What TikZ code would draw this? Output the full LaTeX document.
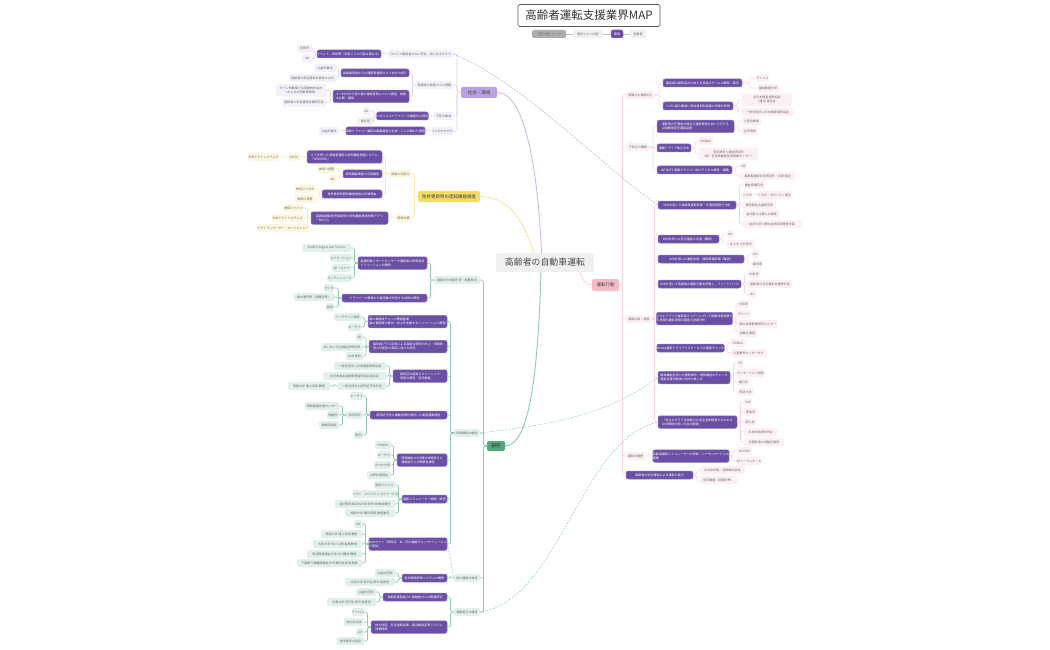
\documentclass[tikz,border=0pt]{standalone}
\usepackage{fontspec}
\setmainfont{Noto Sans CJK JP}
\definecolor{purp}{HTML}{6B4FA5}
\definecolor{purpedge}{HTML}{8E78C2}
\definecolor{purpmid}{HTML}{B7A2DE}
\definecolor{purpleaf}{HTML}{F3F0F9}
\definecolor{purpline}{HTML}{DCD2F0}
\definecolor{yelmid}{HTML}{F2DC63}
\definecolor{yelleaf}{HTML}{FDF7E0}
\definecolor{yelline}{HTML}{FBEBAE}
\definecolor{grnmid}{HTML}{55A57F}
\definecolor{grnleaf}{HTML}{E1F0E9}
\definecolor{grnline}{HTML}{8FC9AE}
\definecolor{pnkmid}{HTML}{F5BCC8}
\definecolor{pnkleaf}{HTML}{FDF0F3}
\definecolor{pnkline}{HTML}{FBD3DE}
\definecolor{txtgray}{HTML}{6A6A6A}
\tikzset{
  base/.style={inner sep=0pt,outer sep=0pt,rounded corners=1.5pt,text=txtgray,font=\fontsize{3.05}{4}\selectfont,align=center},
  pnode/.style={base,fill=purp,draw=purpedge,line width=0.5pt,text=white,align=left,rounded corners=2pt},
  pleaf/.style={base,fill=purpleaf},
  yleaf/.style={base,fill=yelleaf},
  gleaf/.style={base,fill=grnleaf},
  rleaf/.style={base,fill=pnkleaf},
  gyleaf/.style={base,fill=black!6},
  plink/.style={draw=purpline,line width=0.6pt,rounded corners=1.5pt},
  ylink/.style={draw=yelline,line width=0.6pt,rounded corners=1.5pt},
  glink/.style={draw=grnline,line width=0.7pt,rounded corners=1.5pt},
  rlink/.style={draw=pnkline,line width=0.6pt,rounded corners=1.5pt},
  branch/.style={base,rounded corners=2pt,text=black!75,font=\fontsize{4.5}{5.5}\selectfont},
  rel/.style={line width=0.45pt,dash pattern=on 2pt off 1.2pt},
}
\newcommand{\NN}[6]{\node[#2,minimum width={(#4-#3)*1pt},minimum height=8pt] (#1) at ({(#3+#4)/2},#5) {#6};}
\newcommand{\ND}[6]{\node[#2,minimum width={(#4-#3)*1pt},minimum height=12.5pt] (#1) at ({(#3+#4)/2},#5) {#6};}
\newcommand{\LL}[4][3.5]{\draw[#2] (#3.west) -- ++(-#1,0) |- (#4.east);}
\newcommand{\RR}[4][3.5]{\draw[#2] (#3.east) -- ++(#1,0) |- (#4.west);}
\begin{document}
\begin{tikzpicture}[x=1pt,y=-1pt]
\useasboundingbox (0,0) rectangle (1050,650);
\fill[white] (0,0) rectangle (1050,650);
% title and legend
\node[base,draw=black!65,fill=white,line width=0.6pt,minimum width=142pt,minimum height=22pt,text=black!80,font=\fontsize{11.5}{13}\selectfont] (title) at (589,15.5) {高齢者運転支援業界MAP};
\NN{lg1}{base,fill=black!32}{532}{566}{34}{【記入例】テーマ}
\NN{lg2}{gyleaf}{573}{603}{34}{解決したい内容}
\NN{lg3}{pnode}{611}{623}{34}{事例}
\NN{lg4}{gyleaf}{630}{646}{34}{当事者}
\foreach \ia/\ib in {lg1/lg2,lg2/lg3,lg3/lg4} {\draw[black!25,line width=0.5pt] (\ia) -- (\ib);}
% centre and branches
\node[base,fill=black!6,minimum width=98pt,minimum height=19pt,text=black!70,font=\fontsize{8.9}{10}\selectfont] (ctr) at (545,262.5) {高齢者の自動車運転};
\node[branch,fill=purpmid,minimum width=36pt,minimum height=11pt] (soc) at (479,92.5) {社会・環境};
\node[branch,fill=yelmid,minimum width=62pt,minimum height=11pt] (yel) at (449,196.5) {免許更新時の認知機能検査};
\node[branch,fill=pnkmid,minimum width=27pt,minimum height=12pt] (act) at (605.5,285) {運転行動};
\node[branch,fill=grnmid,minimum width=18pt,minimum height=10pt,text=black!85] (res) at (496,446) {研究};
\coordinate (cp) at (541.5,253);
\coordinate (cy) at (534,253);
\coordinate (cg) at (541,272);
\coordinate (cr) at (580,272);
\draw[purpmid!80!white,line width=0.8pt] (cp) .. controls (538,170) and (525,92) .. (soc.east);
\draw[yelline!85!orange,line width=0.7pt] (cy) .. controls (522,215) and (505,196.5) .. (yel.east);
\draw[grnline,line width=0.9pt] (cg) .. controls (538,370) and (530,446) .. (res.east);
\draw[pnkline,line width=0.8pt] (cr) .. controls (583,282) and (587,285) .. (act.west);
% ---------- social
\NN{a1}{pleaf}{388}{453}{54}{ひとりで運転者のない安全、安心をきたろう}
\NN{a2}{pleaf}{416}{453}{85}{高齢者の家族からの理解}
\NN{a3}{pleaf}{434}{453}{116}{不安の解消}
\NN{a4}{pleaf}{432}{453}{131}{人とのかかわり}
\foreach \ic in {a1,a2,a3,a4} {\LL[4]{plink}{soc}{\ic}}
\NN{p1}{pnode}{317}{381}{54}{イベント、研修等（年度ごとの内容は異なる）}
\NN{p2}{pnode}{341}{409}{73}{高齢者家族からの運転準備度セルフ向けの紹介}
\ND{p3}{pnode}{333}{409}{96.5}{４～50代から見た親の運転実態について調査・結果\\の公開・解説}
\NN{p4}{pnode}{377}{428}{116}{ペダルミスドライバーの機能化の提示}
\NN{p5}{pnode}{346}{425}{131}{高齢ドライバー運転の数量調査と社会・人との関わり調査}
\LL{plink}{a1}{p1}
\LL{plink}{a2}{p2}
\LL{plink}{a2}{p3}
\LL{plink}{a3}{p4}
\LL{plink}{a4}{p5}
\NN{p1a}{pleaf}{297}{312}{48.7}{住田市}
\NN{p1b}{pleaf}{302}{312}{58.7}{AD}
\NN{p2a}{pleaf}{314}{336}{68}{公益市数法}
\NN{p2b}{pleaf}{289}{336}{78}{高齢者の安全運転を提供する方}
\ND{p3a}{pleaf}{276}{326}{90.5}{セゾン自動車火災保険株式会社\\（おとなの自動車保険）}
\NN{p3b}{pleaf}{282}{326}{102.7}{高齢者の安全運転支援研究会}
\NN{p4a}{pleaf}{363}{370}{111}{AD}
\NN{p4b}{pleaf}{357}{374}{121}{建交部}
\NN{p5a}{pleaf}{319}{339}{131}{公益市数法}
\foreach \ip/\ic in {p1/p1a,p1/p1b,p2/p2a,p2/p2b,p3/p3a,p3/p3b,p4/p4a,p4/p4b,p5/p5a} {\LL[2.5]{plink}{\ip}{\ic}}
% ---------- yellow
\NN{y1}{yleaf}{389}{412}{174}{検査の効率化}
\NN{y2}{yleaf}{396}{411}{218}{受検対策}
\LL[3.5]{ylink}{yel}{y1}
\LL[3.5]{ylink}{yel}{y2}
\ND{q1}{pnode}{307}{382}{157}{ＡＩを使った高齢者運転の認知機能検査システム\\「MEMORO」}
\NN{q2}{pnode}{343}{382}{174}{認知機能検査の合理運用}
\NN{q3}{pnode}{322}{382}{194}{免許更新時認知機能検査の反映理由}
\ND{q4}{pnode}{311}{388}{218}{高齢者運転免許更新時の認知機能検査体験アプリ\\「MOCO」}
\foreach \ic in {q1,q2,q3} {\LL{ylink}{y1}{\ic}}
\LL{ylink}{y2}{q4}
\NN{q1a}{yleaf}{288}{300}{157}{DELTA}
\NN{q1b}{yleaf}{248}{279}{157}{日本テクトシステムズ}
\NN{q2a}{yleaf}{317}{336}{169}{神奈川県警}
\NN{q2b}{yleaf}{329}{336}{179}{AD}
\NN{q3a}{yleaf}{295}{315}{189}{神奈川トヨタ}
\NN{q3b}{yleaf}{295}{315}{199}{神奈川県警}
\NN{q4a}{yleaf}{284}{303}{208}{損保ジャパン}
\NN{q4b}{yleaf}{272}{303}{218}{日本テクトシステムズ}
\NN{q4c}{yleaf}{263}{303}{228}{ドライブレコーダー・エージェンシー}
\LL{ylink}{q1}{q1a}
\LL{ylink}{q1a}{q1b}
\foreach \ip/\ic in {q2/q2a,q2/q2b,q3/q3a,q3/q3b,q4/q4a,q4/q4b,q4/q4c} {\LL{ylink}{\ip}{\ic}}
% ---------- green
\NN{g1}{gleaf}{434}{480}{280}{運転中の体調不良・興奮発見}
\NN{g2}{gleaf}{454}{480}{433}{認知機能の維持}
\NN{g3}{gleaf}{454}{480}{578}{目の健康の維持}
\NN{g4}{gleaf}{454}{480}{612}{運動能力の維持}
\foreach \ic in {g1,g2,g3,g4} {\LL{glink}{res}{\ic}}
\ND{r1}{pnode}{358}{427}{263}{直接制御リモートセンサーで運転者の表現発見\\ソリューションの開発}
\NN{r2}{pnode}{342}{427}{298}{ドライバーの環境から脳活動を判別する技術の開発}
\ND{r3}{pnode}{368}{447}{321.5}{脳の健康度チェック簡易基準\\脳の健康度の維持・向上を支援するソリューション開発}
\ND{r4}{pnode}{369}{447}{346.5}{脳年齢プラス活用による高齢な認知力向上・早期発\\見の可能性の実証に向けた研究}
\ND{r5}{pnode}{393}{447}{376}{認知症の超高スクリーニング\\発現の開発・活用推進}
\NN{r6}{pnode}{370}{447}{415}{認知症予防の運動習慣を検討した運転運動検査}
\ND{r7}{pnode}{397}{447}{460}{認知機能の5分間の体調変化と\\運転能力との関係性検証}
\NN{r8}{pnode}{402}{447}{499}{運転シミュレーター開発・販売}
\ND{r9}{pnode}{369}{447}{544}{Webサイト「認知症・お・同の機能チェック+トレーニン\\グ提供」}
\NN{r10}{pnode}{402}{447}{578}{有効価値評価システムの開発}
\NN{r11}{pnode}{383}{447}{597}{自動走運転能力と運動能力との関連研究}
\ND{r12}{pnode}{371}{447}{627}{体力測定、安全運転指導、脳活動測定等システム\\体験開発}
\foreach \ic in {r1,r2} {\LL{glink}{g1}{\ic}}
\foreach \ic in {r3,r4,r5,r6,r7,r8,r9} {\LL{glink}{g2}{\ic}}
\LL{glink}{g3}{r10}
\foreach \ic in {r11,r12} {\LL{glink}{g4}{\ic}}
% green leaves
\NN{l1}{gleaf}{302}{351}{248}{SOMPO Digital Lab Tel Aviv}
\NN{l2}{gleaf}{331}{351}{258}{エクサーション}
\NN{l3}{gleaf}{332}{351}{268}{4ビールドイ}
\NN{l4}{gleaf}{328}{351}{278}{コンティニューズ}
\foreach \ic in {l1,l2,l3,l4} {\LL{glink}{r1}{\ic}}
\NN{l5}{gleaf}{324}{334}{288}{マツダ}
\NN{l6}{gleaf}{294}{334}{297}{脳の専門家（認識学界）}
\NN{l7}{gleaf}{326}{334}{307}{相良}
\foreach \ic in {l5,l6,l7} {\LL{glink}{r2}{\ic}}
\NN{l8}{gleaf}{334}{361}{317}{イーデザイン損保}
\NN{l9}{gleaf}{348}{361}{327}{エーザイ}
\foreach \ic in {l8,l9} {\LL{glink}{r3}{\ic}}
\NN{l10}{gleaf}{356}{363}{337}{AD}
\NN{l11}{gleaf}{321}{363}{347}{あいおい手当福祉学研究所}
\NN{l12}{gleaf}{346}{363}{356}{山村世田}
\foreach \ic in {l10,l11,l12} {\LL[3]{glink}{r4}{\ic}}
\NN{l13}{gleaf}{334}{386}{366}{一般社団法人日本損害保険協会}
\NN{l14}{gleaf}{323}{386}{376}{全日本指定自動車教習所協会連合会}
\NN{l15}{gleaf}{338}{386}{386}{一般社団法人認知症予防学会}
\NN{l16}{gleaf}{288}{330}{386}{鳥取大学 浦上克哉 教授}
\foreach \ic in {l13,l14,l15} {\LL{glink}{r5}{\ic}}
\LL{glink}{l15}{l16}
\NN{l17}{gleaf}{350}{363}{396}{エーザイ}
\NN{l18}{gleaf}{346}{363}{415}{共同研究}
\NN{l19}{gleaf}{354}{363}{435}{条田}
\foreach \ic in {l17,l18,l19} {\LL{glink}{r6}{\ic}}
\NN{l20}{gleaf}{305}{339}{406}{鳥取産業支援センター}
\NN{l21}{gleaf}{327}{339}{415}{保健所}
\NN{l22}{gleaf}{319}{339}{425}{事業団組成}
\foreach \ic in {l20,l21,l22} {\LL{glink}{l18}{\ic}}
\NN{l23}{gleaf}{375}{391}{445}{HONDA}
\NN{l24}{gleaf}{377}{391}{455}{エーザイ}
\NN{l25}{gleaf}{374}{391}{465}{カゴヤ大学}
\NN{l26}{gleaf}{367}{391}{475}{山野井医師会}
\foreach \ic in {l23,l24,l25,l26} {\LL{glink}{r7}{\ic}}
\NN{l27}{gleaf}{374}{395}{485}{損保ジャパン}
\NN{l28}{gleaf}{356}{395}{494}{ヤマト・ロジスティクスサービス}
\NN{l29}{gleaf}{335}{395}{504}{金沢医科総合科大学 特任 特 教授兼任}
\NN{l30}{gleaf}{345}{395}{513}{相談大学 濱田 明美 教授兼任}
\foreach \ic in {l27,l28,l29,l30} {\LL{glink}{r8}{\ic}}
\NN{l31}{gleaf}{354}{362}{524}{JAF}
\NN{l32}{gleaf}{321}{362}{534}{鳥取大学 浦上克哉 教授}
\NN{l33}{gleaf}{313}{362}{544}{大阪大学 市川 公啓 客員教授}
\NN{l34}{gleaf}{307}{362}{554}{筑波医療福祉大学 中川雅文 教授}
\NN{l35}{gleaf}{297}{362}{563}{千葉県千葉健康福祉大学 藤田佳男 助教授}
\foreach \ic in {l31,l32,l33,l34,l35} {\LL{glink}{r9}{\ic}}
\NN{l36}{gleaf}{375}{395}{573}{公益社団法}
\NN{l37}{gleaf}{345}{395}{582}{北海大学 寺戸弘 彰司 客員授}
\foreach \ic in {l36,l37} {\LL{glink}{r10}{\ic}}
\NN{l38}{gleaf}{356}{376}{592}{公益社団法}
\NN{l39}{gleaf}{327}{376}{602}{北海大学 寺戸弘 彰司 客員授}
\foreach \ic in {l38,l39} {\LL{glink}{r11}{\ic}}
\NN{l40}{gleaf}{352}{364}{612}{テイパス}
\NN{l41}{gleaf}{344}{364}{622}{地方自治体}
\NN{l42}{gleaf}{356}{364}{632}{JAF}
\NN{l43}{gleaf}{337}{364}{641}{理学療法士協会}
\foreach \ic in {l40,l41,l42,l43} {\LL{glink}{r12}{\ic}}
% ---------- right side
\NN{t1}{rleaf}{626}{655}{95}{認識力の機能向上}
\NN{t2}{rleaf}{627}{649}{147}{不安点の確認}
\NN{t3}{rleaf}{626}{652}{319}{運転の振・検査}
\NN{t4}{rleaf}{626}{645}{456}{運転の履歴}
\NN{s12}{pnode}{626}{693}{475}{高齢者の安全運転による運転の能力}
\foreach \ic in {t1,t2,t3,t4,s12} {\RR{rlink}{act}{\ic}}
\NN{u1}{pnode}{663}{742}{83}{運転者の認知能力の向上を目指すゲームの開発・販売}
\NN{u2}{pnode}{663}{733}{106}{ペダル踏み間違い時加速抑制装置の効果を評価}
\ND{u3}{pnode}{657}{734}{126.5}{運転時の不意急の場合の運転環境を向いて行える\\AI試験用安全運転装置}
\NN{u4}{pnode}{657}{691}{148}{運動ドライブ取込方法}
\NN{u5}{pnode}{657}{732}{170}{JAF NATS 高齢ドライバー向けデジタル教育・講義}
\foreach \ic in {u1,u2} {\RR[4]{rlink}{t1}{\ic}}
\foreach \ic in {u3,u4,u5} {\RR[4]{rlink}{t2}{\ic}}
\NN{v1}{pnode}{658}{736}{205}{DVRを用いた高齢者運転評価・交通危険因子分析}
\NN{v2}{pnode}{658}{719}{239}{DVRを用いた安全運転の支援（確認）}
\NN{v3}{pnode}{658}{744}{259}{DVRを用いた運転支援・運転準備評価（確認）}
\NN{v4}{pnode}{658}{741}{284}{DVRを用いて高齢者の運転行動を把握し、フィードバック}
\ND{v5}{pnode}{658}{731}{318.5}{スマホアプリで運転者スコアリングして損傷保険金額で\\５年度別運転環境の調査の効果分析}
\NN{v6}{pnode}{658}{723}{348}{Honda運転ドライブリスクールでの運転チェック}
\ND{v7}{pnode}{658}{730}{377.5}{脳体機能を用いた運転操作・認知機能のチェック\\運転支援行動後のDVRの推し方}
\ND{v8}{pnode}{658}{737}{422}{「自立のクラブ全体能力の自主主体調査するための\\DVR情報を用いた自立調査」}
\foreach \ic in {v1,v2,v3,v4,v5,v6,v7,v8} {\RR[2.5]{rlink}{t3}{\ic}}
\ND{v9}{pnode}{653}{729}{456}{高齢者運転シミュレーターの開発・シナモンカードとの\\連携}
\RR[4]{rlink}{t4}{v9}
% right leaves
\NN{m1}{rleaf}{757}{768}{78}{デイパス}
\NN{m2}{rleaf}{757}{779}{88}{福岡医療大学}
\foreach \ic in {m1,m2} {\RR[7]{rlink}{u1}{\ic}}
\ND{m3}{rleaf}{742}{792}{100}{全日本損害保険協会\\(連合)連合会}
\NN{m4}{rleaf}{742}{793}{112}{一般社団法人日本損害保険協会}
\foreach \ic in {m3,m4} {\RR[4.5]{rlink}{u2}{\ic}}
\NN{m5}{rleaf}{742}{761}{121}{小室自動車}
\NN{m6}{rleaf}{742}{758}{131}{近市秀和}
\foreach \ic in {m5,m6} {\RR[4]{rlink}{u3}{\ic}}
\NN{m7}{rleaf}{699}{713}{141}{HONDA}
\ND{m8}{rleaf}{699}{758}{154}{奈良県老人福祉研究所\\（現：奈良県健康長寿医療センター）}
\foreach \ic in {m7,m8} {\RR[4]{rlink}{u4}{\ic}}
\NN{m9}{rleaf}{740}{747}{166}{JAF}
\NN{m10}{rleaf}{740}{795}{176}{高齢者運転安全研究所・芯崎 純記}
\foreach \ic in {m9,m10} {\RR[4]{rlink}{u5}{\ic}}
\NN{n1}{rleaf}{743}{765}{185}{福祉保養区市}
\NN{n2}{rleaf}{743}{752}{195}{トヨタ}
\NN{n3}{rleaf}{760}{789}{195}{トヨタ・モビリティ東京}
\NN{n4}{rleaf}{743}{776}{205}{愛知県名古屋研究所}
\NN{n5}{rleaf}{743}{780}{214}{金沢医とは教とは保険}
\NN{n6}{rleaf}{743}{801}{224}{金沢大学人間社会研究院教授学部}
\foreach \ic in {n1,n2,n4,n5,n6} {\RR{rlink}{v1}{\ic}}
\RR{rlink}{n2}{n3}
\NN{n7}{rleaf}{727}{734}{234}{JKC}
\NN{n8}{rleaf}{727}{755}{244}{名上大 小竹見市}
\foreach \ic in {n7,n8} {\RR{rlink}{v2}{\ic}}
\NN{n9}{rleaf}{752}{759}{254}{JKC}
\NN{n10}{rleaf}{752}{763}{264}{最次郎}
\foreach \ic in {n9,n10} {\RR{rlink}{v3}{\ic}}
\NN{n11}{rleaf}{748}{760}{274}{大和市}
\NN{n12}{rleaf}{748}{792}{284}{高齢者の安全運転支援研究会}
\NN{n13}{rleaf}{748}{756}{294}{JKC}
\foreach \ic in {n11,n12,n13} {\RR{rlink}{v4}{\ic}}
\NN{n14}{rleaf}{738}{749}{304}{大和市}
\NN{n15}{rleaf}{738}{750}{314}{デンソー}
\NN{n16}{rleaf}{738}{778}{324}{国立長寿医療研究センター}
\NN{n17}{rleaf}{738}{757}{333}{自動企業団}
\foreach \ic in {n14,n15,n16,n17} {\RR{rlink}{v5}{\ic}}
\NN{n18}{rleaf}{731}{745}{343}{HONDA}
\NN{n19}{rleaf}{731}{766}{353}{公道教育センターホゲ}
\foreach \ic in {n18,n19} {\RR{rlink}{v6}{\ic}}
\NN{n20}{rleaf}{738}{743}{363}{PS}
\NN{n21}{rleaf}{738}{763}{373}{インターリスク総研}
\NN{n22}{rleaf}{738}{749}{382}{樋口氏}
\NN{n23}{rleaf}{738}{753}{392}{筑波大学}
\foreach \ic in {n20,n21,n22,n23} {\RR{rlink}{v7}{\ic}}
\NN{n24}{rleaf}{744}{752}{402}{SAP}
\NN{n25}{rleaf}{744}{757}{412}{東海市}
\NN{n26}{rleaf}{744}{756}{422}{同士社}
\NN{n27}{rleaf}{744}{777}{432}{日本内科疲労学会}
\NN{n28}{rleaf}{744}{784}{442}{全国各地の自動企業局}
\foreach \ic in {n24,n25,n26,n27,n28} {\RR{rlink}{v8}{\ic}}
\NN{n29}{rleaf}{737}{752}{451}{HONDA}
\NN{n30}{rleaf}{737}{761}{461}{VRトークンホーム}
\foreach \ic in {n29,n30} {\RR{rlink}{v9}{\ic}}
\NN{n31}{rleaf}{700}{745}{470}{大日本印刷・保険株式会社}
\NN{n32}{rleaf}{700}{737}{480}{研究機関（認識学界）}
\foreach \ic in {n31,n32} {\RR{rlink}{s12}{\ic}}
% dashed relations
\draw[rel,grnline] (r9.east) .. controls (451,556) and (451,566) .. (g3.west);
\draw[rel,purpmid] (a1.east) .. controls (520,80) and (600,165) .. (v1.west);
\draw[rel,grnline] (g2.east) .. controls (540,425) and (600,420) .. (v7.west);
\draw[rel,grnline] (g4.east) .. controls (560,600) and (580,440) .. (v8.west);
\end{tikzpicture}
\end{document}
